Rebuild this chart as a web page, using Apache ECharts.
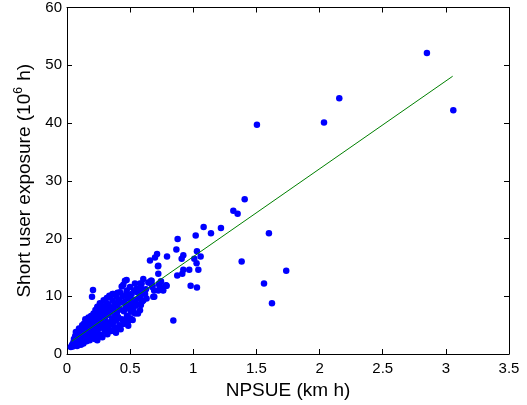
<!DOCTYPE html>
<html>
<head>
<meta charset="utf-8">
<script src="https://cdn.jsdelivr.net/npm/echarts@6/dist/echarts.min.js"></script>
<style>html,body{margin:0;padding:0;background:#fff;}#c{width:527px;height:405px;}</style>
</head>
<body>
<div id="c"></div>
<script>
// NPSUE (km h) values
const npsue = [
  2.85,2.156,2.035,3.059,1.504,
  1.407,1.317,1.351,1.082,1.219,1.140,1.019,1.599,0.876,0.866,1.029,0.921,0.908,0.792,1.008,1.058,1.383,0.968,0.921,0.913,0.873,1.736,1.560,0.784,0.979,1.029,1.623,0.842,1.026,1.04,
  0.03,0.04,0.045,0.05,0.055,0.06,0.065,0.07,0.075,0.08,0.085,0.09,0.095,0.1,0.1,0.06,0.08,0.09,0.07,
  0.105,0.11,0.115,0.12,0.12,0.125,0.13,0.13,0.135,0.14,0.14,0.145,0.15,0.15,0.155,0.16,0.16,0.165,0.17,0.17,0.175,0.18,0.18,0.185,0.19,0.19,0.195,0.2,0.2,0.11,0.135,0.155,0.175,0.2,
  0.206,0.198,0.205,0.21,0.21,0.215,0.22,0.22,0.225,0.23,0.23,0.235,0.24,0.24,0.245,0.25,0.25,0.255,0.26,0.26,0.265,0.27,0.27,0.275,0.28,0.28,0.285,0.29,0.29,0.295,0.3,0.3,0.3,0.269,0.212,0.248,0.262,0.278,
  0.305,0.31,0.315,0.32,0.32,0.325,0.327,0.33,0.335,0.34,0.34,0.345,0.35,0.35,0.355,0.36,0.36,0.365,0.367,0.37,0.375,0.38,0.38,0.385,0.39,0.39,0.395,0.4,0.4,0.4,0.388,0.314,
  0.405,0.41,0.415,0.42,0.42,0.425,0.43,0.433,0.435,0.44,0.445,0.446,0.45,0.455,0.459,0.46,0.465,0.47,0.472,0.473,0.475,0.48,0.485,0.49,0.495,0.499,0.499,0.5,0.5,0.482,
  0.505,0.512,0.515,0.52,0.525,0.525,0.53,0.538,0.538,0.54,0.546,0.551,0.551,0.557,0.562,0.565,0.57,0.578,0.578,0.578,0.578,0.585,0.591,0.591,0.595,0.6,
  0.604,0.604,0.618,0.625,0.63,0.644,0.652,0.657,0.665,0.67,0.675,0.678,0.683,0.69,0.691,0.697,0.713,0.72,0.723,0.723,0.731,0.736,0.744,0.762,0.784,0.789,0.76,0.734,0.73,0.723
];
// Short user exposure (10^6 h) values
const exposure = [
  52.1,44.3,40.1,42.2,39.7,
  26.8,24.8,24.3,22.0,21.8,20.9,20.5,20.9,19.9,18.1,17.8,17.1,16.5,16.9,16.5,16.9,16.0,14.6,14.6,13.9,13.6,14.4,12.2,11.8,11.8,11.5,8.8,5.8,15.7,14.6,
  1.2,1.6,1.3,2.0,2.6,1.5,3.1,2.3,1.8,2.9,3.6,2.2,4.4,2.7,1.9,2.4,1.4,3.3,3.8,
  3.5,2.1,4.1,2.8,5.0,3.3,1.8,4.5,5.3,2.5,3.8,6.0,3.0,4.9,2.2,5.6,3.6,4.3,2.7,6.3,3.9,5.1,2.4,4.6,3.2,6.6,5.4,3.8,4.9,1.6,2.9,4.0,5.8,2.8,
  11.1,9.9,6.2,3.3,7.0,5.7,2.6,4.4,7.6,3.7,6.1,5.0,2.4,8.2,4.2,6.7,3.2,5.5,7.3,8.8,4.7,3.3,6.4,5.9,8.0,2.9,4.5,7.0,9.3,5.2,3.9,6.3,8.3,3.3,4.8,7.9,5.1,7.4,
  4.6,7.6,9.7,5.5,3.4,8.6,4.4,6.8,10.1,5.1,9.85,7.3,4.0,8.1,6.1,9.2,10.4,5.4,10.4,7.8,4.6,6.6,8.8,3.8,9.9,5.8,7.2,4.5,8.4,10.6,3.7,8.7,
  6.4,9.4,5.0,10.7,7.7,4.3,8.9,11.7,6.0,10.0,5.2,12.0,7.4,9.0,12.7,5.9,8.2,10.5,12.8,11.0,6.6,9.6,4.9,7.9,10.1,11.6,9.85,6.2,8.6,5.6,
  7.3,10.4,9.0,5.9,8.1,7.7,11.0,12.2,7.0,9.4,8.4,11.3,8.7,10.7,7.0,11.2,9.7,12.2,9.85,7.56,10.4,8.5,12.2,11.3,9.1,10.8,
  13.0,9.28,10.4,11.2,9.6,12.4,12.4,16.2,12.7,12.7,11.6,11.9,9.9,11.0,9.9,16.7,17.3,15.2,13.9,11.0,12.2,11.6,12.6,11.0,11.9,11.8,11.1,12.2,12.0,15.3
];
// Fitted line end points
const fitX = [0.037, 3.054];
const fitY = [2.2, 48.1];
// Axis ticks
const xTicks = [0, 0.5, 1, 1.5, 2, 2.5, 3, 3.5];
const yTicks = [0, 10, 20, 30, 40, 50, 60];

const points = npsue.map((x, i) => [x, exposure[i]]);
const fitLine = fitX.map((x, i) => [x, fitY[i]]);

const font = '"Liberation Sans", Arial, Helvetica, sans-serif';
const chart = echarts.init(document.getElementById('c'), null, {renderer: 'canvas'});
const axisLineStyle = {show: true, onZero: false, lineStyle: {color: '#000', width: 1}};
const tickStyle = {show: true, inside: true, length: 5, lineStyle: {color: '#000', width: 1}};

chart.setOption({
  animation: false,
  backgroundColor: '#fff',
  grid: {left: 67, right: 18, top: 5, bottom: 51, containLabel: false},
  xAxis: [{
    type: 'value', position: 'bottom', min: xTicks[0], max: xTicks[xTicks.length - 1], interval: 0.5,
    axisLine: axisLineStyle, axisTick: tickStyle, splitLine: {show: false},
    axisLabel: {color: '#000', fontSize: 15, fontFamily: font, margin: 7,
      formatter: v => String(v)},
    name: 'NPSUE (km h)', nameLocation: 'middle', nameGap: 26,
    nameTextStyle: {color: '#000', fontSize: 19, fontFamily: font}
  }, {
    type: 'value', position: 'top', min: xTicks[0], max: xTicks[xTicks.length - 1], interval: 0.5,
    axisLine: axisLineStyle, axisTick: tickStyle, axisLabel: {show: false}, splitLine: {show: false}
  }],
  yAxis: [{
    type: 'value', position: 'left', min: yTicks[0], max: yTicks[yTicks.length - 1], interval: 10,
    axisLine: axisLineStyle, axisTick: tickStyle, splitLine: {show: false},
    axisLabel: {color: '#000', fontSize: 15, fontFamily: font, margin: 5},
    name: '{a|Short user exposure (10}{b|6}{a| h)}', nameLocation: 'middle', nameGap: 30, nameRotate: 90,
    nameTextStyle: {color: '#000', fontSize: 19, fontFamily: font,
      rich: {
        a: {fontSize: 19, fontFamily: font, color: '#000', lineHeight: 24},
        b: {fontSize: 12, fontFamily: font, color: '#000', verticalAlign: 'top', lineHeight: 24, padding: [0, 1, 0, 0]}
      }}
  }, {
    type: 'value', position: 'right', min: yTicks[0], max: yTicks[yTicks.length - 1], interval: 10,
    axisLine: axisLineStyle, axisTick: tickStyle, axisLabel: {show: false}, splitLine: {show: false}
  }],
  series: [{
    type: 'scatter', data: points, symbol: 'circle', symbolSize: 6.5,
    itemStyle: {color: '#0000ff', opacity: 1}, xAxisIndex: 0, yAxisIndex: 0, z: 2
  }, {
    type: 'line', data: fitLine, showSymbol: false, symbol: 'none',
    lineStyle: {color: '#008000', width: 1}, xAxisIndex: 0, yAxisIndex: 0, z: 3
  }]
});
</script>
</body>
</html>
